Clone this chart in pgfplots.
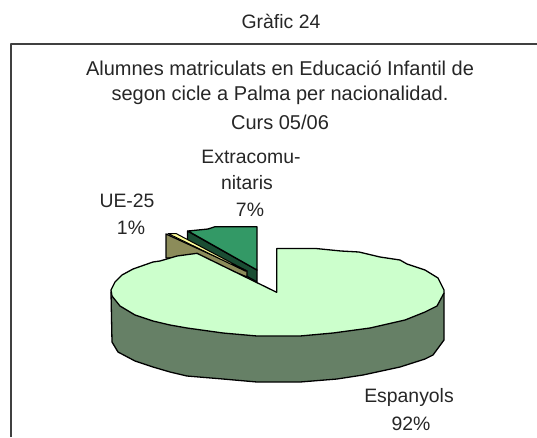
\documentclass[border=0pt]{standalone}
\usepackage{fontspec}
\setmainfont{Liberation Sans}
\usepackage{pgfplots}
\pgfplotsset{compat=1.18}
\definecolor{espa}{HTML}{CCFFCC}
\definecolor{esparim}{HTML}{668066}
\definecolor{extra}{HTML}{339966}
\definecolor{extrarim}{HTML}{1A4D33}
\definecolor{ue}{HTML}{FFFF99}
\definecolor{uerim}{HTML}{8C8C5A}
\tikzset{lab/.style={font=\fontsize{19.4}{22}\selectfont,text=black!85,inner sep=0pt,anchor=center},
tit/.style={font=\fontsize{20}{22}\selectfont,text=black!85,inner sep=0pt,anchor=center}}
\begin{document}
\begin{tikzpicture}
\begin{axis}[
  width=537pt,height=437pt,scale only axis,
  xmin=0,xmax=537,ymin=0,ymax=437,y dir=reverse,
  hide axis,clip=true,
  every axis plot/.append style={line join=round,line width=1.3pt,draw=black,mark=none}
]
\path (axis cs:0,0) -- (axis cs:537,437);
% frame
\addplot[draw=black!75,line width=1.8pt] coordinates {(11,437) (11,44) (537,44)};
% Extracomunitaris wall and top
\addplot[fill=extrarim] coordinates {(187.5,231) (257,270) (257,282) (187.5,243)} --cycle;
\addplot[fill=extra] coordinates {(188,231) (208,229) (215,226.7) (257,226.7) (257,270)} --cycle;
% UE-25 wall and top
\addplot[fill=uerim] coordinates {(166,234) (166,258) (200,258) (247,277) (247,271)} --cycle;
\addplot[fill=ue,line width=1pt] coordinates {(168,233.5) (176,233.5) (247,271) (245,271)} --cycle;
% Espanyols rim
\addplot[fill=esparim] coordinates {(111,292) (112,342) (118,352) (135,361) (153,367) (170,372) (187,376) (223,379) (257,382) (300,382) (337,379) (363,375) (400,367) (425,359) (433,355) (444,340) (444,293)} --cycle;
% Espanyols top
\addplot[fill=espa] coordinates {(276.7,292.3) (276.7,248.5) (316,248.5) (341,251) (359,252) (380,257) (400,260) (407,264) (425,270) (438,278) (444,290) (444,293) (437,306) (425,312) (405,320) (370,328) (333,333) (300,336) (257,336) (223,333) (187,328) (170,325) (153,321) (135,315) (120,306) (112,296) (111,290) (115,282) (122,275) (133,269) (153,262) (160,261) (177,256) (197,253.3)} --cycle;
% texts
\node[lab] at (axis cs:281,21) {Gràfic 24};
\node[tit] at (axis cs:280,68) {Alumnes matriculats en Educació Infantil de};
\node[tit] at (axis cs:280,95) {segon cicle a Palma per nacionalidad.};
\node[tit] at (axis cs:280,122) {Curs 05/06};
\node[lab] at (axis cs:251,157) {Extracomu-};
\node[lab] at (axis cs:247,183) {nitaris};
\node[lab] at (axis cs:250,210) {7\%};
\node[lab] at (axis cs:127,201) {UE-25};
\node[lab] at (axis cs:131,228) {1\%};
\node[lab] at (axis cs:409,397) {Espanyols};
\node[lab] at (axis cs:411,424) {92\%};
\end{axis}
\end{tikzpicture}
\end{document}
